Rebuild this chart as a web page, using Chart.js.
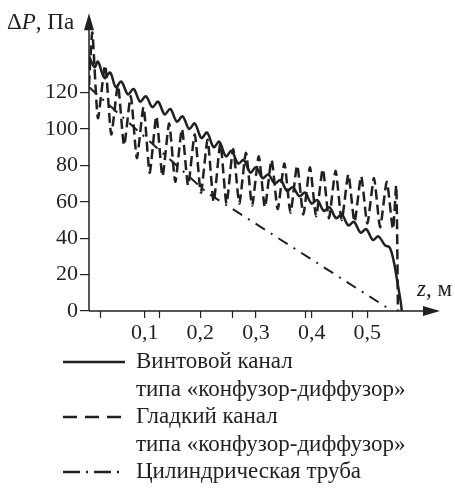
<!DOCTYPE html>
<html>
<head>
<meta charset="utf-8">
<script src="https://cdn.jsdelivr.net/npm/chart.js@4/dist/chart.umd.min.js"></script>
<style>
  html, body { margin: 0; padding: 0; background: #fff; }
  #wrap { width: 455px; height: 488px; position: relative; }
</style>
</head>
<body>
<div id="wrap"><canvas id="dpChart" width="455" height="488"></canvas></div>
<script>
// z, м — координата вдоль канала; ΔP, Па
const xTicks = [0.1, 0.2, 0.3, 0.4, 0.5];
const xTickLabels = ["0,1", "0,2", "0,3", "0,4", "0,5"];
const xExtraTicks = [0.02, 0.126, 0.257, 0.388, 0.472];
const yTicks = [0, 20, 40, 60, 80, 100, 120];

// Винтовой канал типа «конфузор-диффузор»
const screwZ = [0.000, 0.010, 0.016, 0.028, 0.038, 0.048, 0.058, 0.070, 0.080, 0.092, 0.102, 0.114, 0.124, 0.136, 0.146,
  0.158, 0.168, 0.180, 0.190, 0.202, 0.212, 0.224, 0.234, 0.246, 0.256, 0.268, 0.278, 0.290, 0.300, 0.312, 0.322,
  0.334, 0.344, 0.356, 0.366, 0.378, 0.388, 0.400, 0.410, 0.422, 0.432, 0.444, 0.454, 0.466, 0.476, 0.488, 0.498,
  0.510, 0.520, 0.532, 0.540, 0.547, 0.554, 0.560, 0.562];
const screwP = [140, 134, 137, 128, 131, 123, 126, 119, 122, 115, 118, 112, 115, 108, 111,
  104, 107, 100, 103, 95, 98, 90, 93, 85, 88, 81, 83, 76, 79, 73, 75,
  70, 72, 66, 68, 63, 65, 59, 61, 55, 57, 51, 53, 47, 49, 43, 45,
  39, 41, 36, 35, 28, 16, 5, 0];

// Гладкий канал типа «конфузор-диффузор»
const smoothZ = [0.000, 0.006, 0.016, 0.029, 0.040, 0.052, 0.063, 0.075, 0.086, 0.098, 0.109, 0.121, 0.132, 0.144,
  0.155, 0.167, 0.178, 0.190, 0.201, 0.213, 0.224, 0.236, 0.247, 0.259, 0.270, 0.282, 0.293, 0.305, 0.316, 0.328,
  0.339, 0.351, 0.362, 0.374, 0.385, 0.397, 0.408, 0.420, 0.431, 0.443, 0.454, 0.466, 0.477, 0.489, 0.500, 0.512,
  0.523, 0.535, 0.546, 0.552, 0.555];
const smoothP = [124, 153, 106, 135, 97, 124, 91, 118, 84, 112, 76, 107, 74, 103,
  71, 100, 69, 97, 65, 94, 60, 92, 59, 89, 59, 87, 58, 85, 57, 83,
  56, 81, 54, 80, 53, 79, 52, 78, 51, 77, 50, 75, 49, 74, 48, 73,
  46, 71, 45, 69, 0];

// Цилиндрическая труба
const tubeZ = [0.000, 0.212, 0.545];
const tubeP = [123, 65, 0];

const ink = "#231f20";
const serif = "'Liberation Serif', 'DejaVu Serif', serif";

function pts(zs, ps) {
  return zs.map((z, i) => ({ x: z, y: ps[i] }));
}

const legendItems = [
  { dash: [], lines: ["Винтовой канал", "типа «конфузор-диффузор»"] },
  { dash: [14, 8], lines: ["Гладкий канал", "типа «конфузор-диффузор»"] },
  { dash: [17, 6, 2, 6], lines: ["Цилиндрическая труба"] }
];

const decorPlugin = {
  id: "decor",
  afterDraw(chart) {
    const ctx = chart.ctx;
    const a = chart.chartArea;
    const x0 = chart.scales.x.getPixelForValue(0);
    const y0 = chart.scales.y.getPixelForValue(0);
    ctx.save();
    ctx.fillStyle = ink;
    ctx.strokeStyle = ink;
    // оси
    ctx.lineWidth = 1.5;
    ctx.beginPath();
    ctx.moveTo(x0, y0);
    ctx.lineTo(x0, a.top + 10);
    ctx.moveTo(x0, y0);
    ctx.lineTo(a.right - 10, y0);
    ctx.stroke();
    // стрелки
    ctx.beginPath();
    ctx.moveTo(x0, a.top - 2);
    ctx.lineTo(x0 - 5, a.top + 15);
    ctx.lineTo(x0 + 5, a.top + 15);
    ctx.closePath();
    ctx.fill();
    ctx.beginPath();
    ctx.moveTo(a.right + 2, y0);
    ctx.lineTo(a.right - 15, y0 - 5);
    ctx.lineTo(a.right - 15, y0 + 5);
    ctx.closePath();
    ctx.fill();

    // дополнительные засечки на оси z
    ctx.lineWidth = 1.2;
    ctx.beginPath();
    xExtraTicks.forEach(v => {
      const px = Math.round(chart.scales.x.getPixelForValue(v)) + 0.5;
      ctx.moveTo(px, y0);
      ctx.lineTo(px, y0 + 7);
    });
    ctx.stroke();

    // подписи осей
    ctx.textBaseline = "alphabetic";
    ctx.textAlign = "left";
    let tx = 7;
    const ty = 29;
    ctx.font = "23px " + serif;
    ctx.fillText("Δ", tx, ty);
    tx += ctx.measureText("Δ").width;
    ctx.font = "italic 23px " + serif;
    ctx.fillText("P", tx, ty);
    tx += ctx.measureText("P").width;
    ctx.font = "23px " + serif;
    ctx.fillText(", Па", tx, ty);

    let zx = 417;
    ctx.font = "italic 23px " + serif;
    ctx.fillText("z", zx, 296);
    zx += ctx.measureText("z").width;
    ctx.font = "23px " + serif;
    ctx.fillText(", м", zx, 296);

    // легенда
    ctx.font = "23px " + serif;
    ctx.textBaseline = "middle";
    let ly = 362;
    legendItems.forEach(item => {
      ctx.lineWidth = 2.5;
      ctx.setLineDash(item.dash);
      ctx.beginPath();
      ctx.moveTo(63, ly);
      ctx.lineTo(125, ly);
      ctx.stroke();
      ctx.setLineDash([]);
      item.lines.forEach(t => {
        ctx.fillText(t, 136, ly);
        ly += 27.5;
      });
    });
    ctx.restore();
  }
};

const ctx = document.getElementById("dpChart").getContext("2d");
window.dpChart = new Chart(ctx, {
  type: "scatter",
  data: {
    datasets: [
      {
        label: "Винтовой канал типа «конфузор-диффузор»",
        data: pts(screwZ, screwP),
        showLine: true,
        borderColor: ink,
        borderWidth: 2.5,
        pointRadius: 0,
        tension: 0.35
      },
      {
        label: "Гладкий канал типа «конфузор-диффузор»",
        data: pts(smoothZ, smoothP),
        showLine: true,
        borderColor: ink,
        borderWidth: 2.5,
        borderDash: [10, 5],
        pointRadius: 0,
        tension: 0.2
      },
      {
        label: "Цилиндрическая труба",
        data: pts(tubeZ, tubeP),
        showLine: true,
        borderColor: ink,
        borderWidth: 2,
        borderDash: [11, 7, 2, 7],
        pointRadius: 0,
        tension: 0
      }
    ]
  },
  options: {
    responsive: false,
    animation: false,
    devicePixelRatio: 1,
    layout: { padding: { left: 0, right: 17, top: 12, bottom: 0 } },
    plugins: {
      legend: { display: false },
      tooltip: { enabled: false }
    },
    scales: {
      x: {
        type: "linear",
        min: 0,
        max: 0.627,
        border: { display: false },
        grid: { drawOnChartArea: false, drawTicks: true, tickLength: 7, color: ink, lineWidth: 1.2 },
        afterBuildTicks: s => { s.ticks = xTicks.map(v => ({ value: v })); },
        afterFit: s => { s.height = 177; },
        ticks: {
          autoSkip: false,
          maxRotation: 0,
          padding: 2,
          color: ink,
          font: { family: serif, size: 22 },
          callback: v => {
            const i = xTicks.findIndex(t => Math.abs(t - v) < 1e-9);
            return i >= 0 ? xTickLabels[i] : "";
          }
        }
      },
      y: {
        type: "linear",
        min: 0,
        max: 162.5,
        border: { display: false },
        grid: { drawOnChartArea: false, drawTicks: true, tickLength: 9, color: ink, lineWidth: 1.2 },
        afterBuildTicks: s => { s.ticks = yTicks.map(v => ({ value: v })); },
        afterFit: s => { s.width = 89; },
        ticks: {
          autoSkip: false,
          padding: 2,
          color: ink,
          font: { family: serif, size: 22 }
        }
      }
    }
  },
  plugins: [decorPlugin]
});
</script>
</body>
</html>
